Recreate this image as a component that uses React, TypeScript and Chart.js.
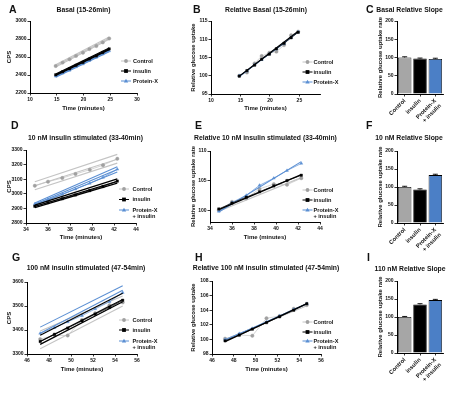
import React, { useEffect, useRef } from 'react';
import { Chart, registerables } from 'chart.js';

Chart.register(...registerables);

const PAGE_W = 454;
const PAGE_H = 397;
const FONT = '"Liberation Sans", Arial, Helvetica, sans-serif';
Chart.defaults.font.family = FONT;

const CTRL_LINE = '#c4c4c4';
const CTRL_MARK = '#a0a0a0';
const INS = '#000000';
const PROT = '#5b8fd3';
const BAR_GRAY = '#a6a6a6';
const BAR_BLUE = '#4b7fc6';
const TEXT = '#111111';

// ---------------- DATA ----------------
const basalTimes = [14.8, 16.1, 17.4, 18.6, 19.9, 21.1, 22.4, 23.6, 24.8];
const basalFitT = [14.8, 24.8];
const tenTimes = [34.8, 36.0, 37.3, 38.5, 39.8, 41.0, 42.3];
const tenFitT = [34.8, 42.3];
const hundredTimes = [47.2, 48.5, 49.7, 51.0, 52.2, 53.5, 54.7];
const hundredFitT = [47.2, 54.7];

// Panel A: Basal CPS
const aCtrl = [2500, 2538, 2574, 2612, 2648, 2688, 2722, 2762, 2806];
const aIns = [2402, 2436, 2470, 2508, 2540, 2578, 2612, 2650, 2690];
const aProt = [2386, 2420, 2452, 2490, 2522, 2560, 2596, 2632, 2668];
const aCtrlFitStart = [2490, 2502, 2514];
const aCtrlFitEnd = [2796, 2808, 2822];
const aInsFitStart = [2394, 2402, 2410];
const aInsFitEnd = [2682, 2691, 2700];
const aProtFitStart = [2376, 2384, 2393];
const aProtFitEnd = [2658, 2667, 2677];

// Panel B: Relative basal
const bCtrl = [100.0, 100.9, 103.4, 105.4, 106.3, 106.6, 108.4, 111.1, 112.1];
const bIns = [99.9, 101.4, 102.9, 104.5, 105.9, 107.4, 108.9, 110.4, 111.9];
const bProt = [100.0, 101.3, 103.0, 104.4, 106.0, 107.3, 108.8, 110.5, 112.0];
const bCtrlFitStart = [99.8];
const bCtrlFitEnd = [112.0];
const bInsFitStart = [99.9];
const bInsFitEnd = [112.2];
const bProtFitStart = [99.8];
const bProtFitEnd = [112.1];

// Panel D: 10 nM CPS
const dCtrl = [3055, 3083, 3108, 3136, 3165, 3196, 3240];
const dIns = [2915, 2940, 2966, 2992, 3022, 3050, 3087];
const dProt = [2930, 2962, 2996, 3032, 3072, 3112, 3168];
const dCtrlFitStart = [3028, 3055, 3082];
const dCtrlFitEnd = [3210, 3237, 3270];
const dInsFitStart = [2905, 2913, 2922];
const dInsFitEnd = [3073, 3085, 3102];
const dProtFitStart = [2920, 2928, 2937];
const dProtFitEnd = [3150, 3167, 3185];

// Panel E: Relative 10 nM
const eCtrl = [100.0, 101.4, 102.0, 103.6, 104.4, 104.3, 105.4];
const eIns = [100.2, 101.2, 102.2, 103.1, 104.1, 105.0, 105.9];
const eProt = [99.8, 101.3, 102.5, 104.2, 105.4, 106.7, 107.9];
const eCtrlFitStart = [99.8];
const eCtrlFitEnd = [105.5];
const eInsFitStart = [100.1];
const eInsFitEnd = [106.0];
const eProtFitStart = [99.7];
const eProtFitEnd = [108.2];

// Panel G: 100 nM CPS
const gCtrl = [3362, 3378, 3377, 3442, 3470, 3503, 3515];
const gIns = [3352, 3382, 3408, 3438, 3466, 3494, 3524];
const gProt = [3386, 3410, 3434, 3460, 3488, 3518, 3556];
const gCtrlFitStart = [3322, 3396];
const gCtrlFitEnd = [3500, 3542];
const gInsFitStart = [3340, 3352, 3378];
const gInsFitEnd = [3518, 3527, 3553];
const gProtFitStart = [3386, 3412];
const gProtFitEnd = [3566, 3584];

// Panel H: Relative 100 nM
const hCtrl = [100.1, 100.6, 100.5, 102.9, 103.2, 104.2, 104.7];
const hIns = [99.8, 100.6, 101.4, 102.3, 103.1, 104.0, 104.9];
const hProt = [100.0, 100.8, 101.5, 102.4, 103.2, 104.1, 104.9];
const hCtrlFitStart = [100.0];
const hCtrlFitEnd = [104.6];
const hInsFitStart = [99.7];
const hInsFitEnd = [104.9];
const hProtFitStart = [99.9];
const hProtFitEnd = [104.9];

// Bar panels
const barCategories: (string | string[])[] = ['Control', 'insulin', ['Protein-X', '+ insulin']];
const cSlope = [100, 97, 96];
const cErr = [2, 1.5, 2];
const fSlope = [100, 93, 133];
const fErr = [2, 2, 2.5];
const iSlope = [100, 135, 147];
const iErr = [1.5, 2, 2];

// Tick labels
const ticksA_x = [10, 15, 20, 25, 30];
const ticksA_y = [2200, 2400, 2600, 2800, 3000];
const ticksB_x = [10, 15, 20, 25];
const ticksB_y = [95, 100, 105, 110, 115];
const ticksD_x = [34, 36, 38, 40, 42, 44];
const ticksD_y = [2800, 2900, 3000, 3100, 3200, 3300];
const ticksE_x = [34, 36, 38, 40, 42, 44];
const ticksE_y = [100, 105, 110];
const ticksG_x = [46, 48, 50, 52, 54, 56];
const ticksG_y = [3300, 3400, 3500, 3600];
const ticksH_x = [46, 48, 50, 52, 54, 56];
const ticksH_y = [98, 100, 102, 104, 106, 108];
const ticksBar_y = [0, 50, 100, 150, 200];

const groupNames = ['Control', 'insulin', 'Protein-X'];

// ---------------- HELPERS ----------------
const tickFont = { family: FONT, size: 5, weight: 'bold' as const };
const titleFont = { family: FONT, size: 6, weight: 'bold' as const, lineHeight: 1.2 };
const HALF_TITLE = 3.6;

const pts = (xs: number[], ys: number[]) => xs.map((x, i) => ({ x, y: ys[i] }));

function fitSets(t: number[], starts: number[], ends: number[], color: string, width: number) {
  return starts.map((s, i) => ({
    data: [{ x: t[0], y: s }, { x: t[1], y: ends[i] }],
    borderColor: color,
    borderWidth: width,
    pointRadius: 0,
    fill: false,
    tension: 0,
  }));
}

function meanSet(xs: number[], ys: number[], line: string, mark: string, style: string) {
  return {
    data: pts(xs, ys),
    borderColor: line,
    borderWidth: 0.7,
    pointStyle: style,
    pointRadius: 1.7,
    pointBackgroundColor: mark,
    pointBorderColor: mark,
    pointBorderWidth: 0.4,
    fill: false,
    tension: 0,
  };
}

function groupSets(times: number[], fitT: number[], ctrl: number[], ins: number[], prot: number[],
  cs: number[], ce: number[], is: number[], ie: number[], ps: number[], pe: number[]) {
  return [
    meanSet(times, ins, INS, INS, 'rect'),
    ...fitSets(fitT, is, ie, INS, 1.2),
    meanSet(times, prot, PROT, PROT, 'triangle'),
    ...fitSets(fitT, ps, pe, PROT, 1.1),
    meanSet(times, ctrl, CTRL_LINE, CTRL_MARK, 'circle'),
    ...fitSets(fitT, cs, ce, CTRL_LINE, 1.1),
  ];
}

function linAxis(min: number, max: number, ticks: number[], title: string, vertical: boolean, size: number) {
  return {
    type: 'linear',
    min,
    max,
    afterBuildTicks: (s: any) => { s.ticks = ticks.map((v) => ({ value: v })); },
    afterFit: (s: any) => { if (vertical) s.width = size; else s.height = size; },
    ticks: { font: tickFont, color: TEXT, padding: 1, maxRotation: 0, autoSkip: false, callback: (v: any) => String(v) },
    grid: { display: true, drawOnChartArea: false, drawTicks: true, tickLength: 2.5, color: '#000', lineWidth: 0.8 },
    border: { display: true, color: '#000', width: 1 },
    title: { display: true, text: title, font: titleFont, color: TEXT, padding: 0 },
  };
}

interface LegendSpec { markerX: number; textX: number; rows: number[]; twoLine: boolean }
interface Decor {
  letter: string; letterX: number; letterY: number;
  title: string; titleX: number; titleY: number;
  legend?: LegendSpec;
}

function drawMarker(ctx: CanvasRenderingContext2D, style: string, x: number, y: number, r: number, color: string) {
  ctx.fillStyle = color;
  ctx.beginPath();
  if (style === 'circle') ctx.arc(x, y, r, 0, Math.PI * 2);
  else if (style === 'rect') ctx.rect(x - r, y - r, 2 * r, 2 * r);
  else {
    ctx.moveTo(x, y - r * 1.2);
    ctx.lineTo(x + r * 1.15, y + r * 0.85);
    ctx.lineTo(x - r * 1.15, y + r * 0.85);
    ctx.closePath();
  }
  ctx.fill();
}

function decorPlugin(d: Decor) {
  return {
    id: 'decor',
    afterDraw(chart: any) {
      const ctx: CanvasRenderingContext2D = chart.ctx;
      ctx.save();
      ctx.fillStyle = TEXT;
      ctx.textBaseline = 'middle';
      ctx.textAlign = 'left';
      ctx.font = `bold 10.5px ${FONT}`;
      ctx.fillText(d.letter, d.letterX, d.letterY);
      ctx.font = `bold 6.8px ${FONT}`;
      ctx.textAlign = 'center';
      ctx.fillText(d.title, d.titleX, d.titleY);
      if (d.legend) {
        const L = d.legend;
        const items = [
          { text: groupNames[0], line: CTRL_LINE, mark: CTRL_MARK, style: 'circle' },
          { text: groupNames[1], line: INS, mark: INS, style: 'rect' },
          { text: groupNames[2], line: PROT, mark: PROT, style: 'triangle' },
        ];
        ctx.font = `bold 5.6px ${FONT}`;
        ctx.textAlign = 'left';
        items.forEach((it, i) => {
          const y = L.rows[i];
          ctx.strokeStyle = it.line;
          ctx.lineWidth = 1;
          ctx.beginPath();
          ctx.moveTo(L.markerX - 5, y);
          ctx.lineTo(L.markerX + 5, y);
          ctx.stroke();
          drawMarker(ctx, it.style, L.markerX, y, 1.9, it.mark);
          ctx.fillStyle = TEXT;
          ctx.fillText(it.text, L.textX, y);
          if (i === 2 && L.twoLine) ctx.fillText('+ insulin', L.textX, y + 6.5);
        });
      }
      ctx.restore();
    },
  };
}

function errorBarPlugin(values: number[], errors: number[]) {
  return {
    id: 'errbars',
    afterDatasetsDraw(chart: any) {
      const ctx: CanvasRenderingContext2D = chart.ctx;
      const meta = chart.getDatasetMeta(0);
      const ys = chart.scales.y;
      ctx.save();
      ctx.strokeStyle = '#000';
      ctx.lineWidth = 0.9;
      meta.data.forEach((bar: any, i: number) => {
        const x = bar.x;
        const y0 = ys.getPixelForValue(values[i]);
        const y1 = ys.getPixelForValue(values[i] + errors[i]);
        ctx.beginPath();
        ctx.moveTo(x, y0);
        ctx.lineTo(x, y1);
        ctx.moveTo(x - 2.5, y1);
        ctx.lineTo(x + 2.5, y1);
        ctx.stroke();
      });
      ctx.restore();
    },
  };
}

const baseOptions = {
  responsive: false,
  maintainAspectRatio: false,
  animation: false,
  devicePixelRatio: 1,
  events: [] as string[],
};
const noPlugins = { legend: { display: false }, tooltip: { enabled: false }, title: { display: false } };

interface XYPanel {
  l: number; r: number; t: number; b: number;
  xMin: number; xMax: number; xTicks: number[];
  yMin: number; yMax: number; yTicks: number[];
  yTitle: string; yTitleX: number; xTitleY: number;
  datasets: any[];
  decor: Decor;
}

function xyConfig(p: XYPanel): any {
  const wy = p.l - (p.yTitleX - HALF_TITLE);
  const hx = p.xTitleY - p.b + HALF_TITLE;
  return {
    type: 'line',
    data: { datasets: p.datasets },
    options: {
      ...baseOptions,
      layout: { padding: { left: p.l - wy, right: PAGE_W - p.r, top: p.t, bottom: PAGE_H - p.b - hx } },
      plugins: noPlugins,
      scales: {
        x: linAxis(p.xMin, p.xMax, p.xTicks, 'Time (minutes)', false, hx),
        y: linAxis(p.yMin, p.yMax, p.yTicks, p.yTitle, true, wy),
      },
    },
    plugins: [decorPlugin(p.decor)],
  };
}

interface BarPanel {
  l: number; r: number; t: number; b: number; yTitleX: number;
  values: number[]; errors: number[]; decor: Decor;
}

function barConfig(p: BarPanel): any {
  const wy = p.l - (p.yTitleX - HALF_TITLE);
  const hx = 30;
  return {
    type: 'bar',
    data: {
      labels: barCategories,
      datasets: [{
        data: p.values,
        backgroundColor: [BAR_GRAY, INS, BAR_BLUE],
        borderColor: '#000',
        borderWidth: 0.8,
        barPercentage: 0.88,
        categoryPercentage: 1,
      }],
    },
    options: {
      ...baseOptions,
      layout: { padding: { left: p.l - wy, right: PAGE_W - p.r, top: p.t, bottom: PAGE_H - p.b - hx } },
      plugins: noPlugins,
      scales: {
        x: {
          type: 'category',
          offset: true,
          afterFit: (s: any) => { s.height = hx; },
          ticks: { font: { family: FONT, size: 5.8, weight: 'bold' }, color: TEXT, minRotation: 45, maxRotation: 45, autoSkip: false, padding: 1 },
          grid: { display: true, drawOnChartArea: false, offset: false, tickLength: 2.5, color: '#000', lineWidth: 0.8 },
          border: { display: true, color: '#000', width: 1 },
        },
        y: linAxis(0, 200, ticksBar_y, 'Relative glucose uptake rate', true, wy),
      },
    },
    plugins: [errorBarPlugin(p.values, p.errors), decorPlugin(p.decor)],
  };
}

// ---------------- PANELS ----------------
const configs: any[] = [
  xyConfig({
    l: 30, r: 137, t: 21, b: 93, xMin: 10, xMax: 30, xTicks: ticksA_x, yMin: 2200, yMax: 3000, yTicks: ticksA_y,
    yTitle: 'CPS', yTitleX: 9.5, xTitleY: 108.5,
    datasets: groupSets(basalTimes, basalFitT, aCtrl, aIns, aProt, aCtrlFitStart, aCtrlFitEnd, aInsFitStart, aInsFitEnd, aProtFitStart, aProtFitEnd),
    decor: { letter: 'A', letterX: 9, letterY: 10, title: 'Basal (15-26min)', titleX: 83.5, titleY: 10, legend: { markerX: 126, textX: 133, rows: [61, 71, 81], twoLine: false } },
  }),
  xyConfig({
    l: 211, r: 320, t: 21, b: 94, xMin: 10, xMax: 28.5, xTicks: ticksB_x, yMin: 95, yMax: 115, yTicks: ticksB_y,
    yTitle: 'Relative glucose uptake', yTitleX: 193, xTitleY: 108.5,
    datasets: groupSets(basalTimes, basalFitT, bCtrl, bIns, bProt, bCtrlFitStart, bCtrlFitEnd, bInsFitStart, bInsFitEnd, bProtFitStart, bProtFitEnd),
    decor: { letter: 'B', letterX: 193, letterY: 10, title: 'Relative Basal (15-26min)', titleX: 266, titleY: 10, legend: { markerX: 307.5, textX: 313.5, rows: [62, 72, 82], twoLine: false } },
  }),
  barConfig({
    l: 397, r: 443, t: 21, b: 94, yTitleX: 380, values: cSlope, errors: cErr,
    decor: { letter: 'C', letterX: 366, letterY: 10, title: 'Basal Relative Slope', titleX: 409.5, titleY: 10 },
  }),
  xyConfig({
    l: 26, r: 136, t: 150, b: 223, xMin: 34, xMax: 44, xTicks: ticksD_x, yMin: 2800, yMax: 3300, yTicks: ticksD_y,
    yTitle: 'CPS', yTitleX: 9.5, xTitleY: 237.5,
    datasets: groupSets(tenTimes, tenFitT, dCtrl, dIns, dProt, dCtrlFitStart, dCtrlFitEnd, dInsFitStart, dInsFitEnd, dProtFitStart, dProtFitEnd),
    decor: { letter: 'D', letterX: 11, letterY: 126, title: '10 nM insulin stimulated (33-40min)', titleX: 85.5, titleY: 138, legend: { markerX: 124, textX: 132.5, rows: [189, 199.5, 210], twoLine: true } },
  }),
  xyConfig({
    l: 210, r: 320, t: 151, b: 222, xMin: 34, xMax: 44, xTicks: ticksE_x, yMin: 98, yMax: 110, yTicks: ticksE_y,
    yTitle: 'Relative glucose uptake rate', yTitleX: 193, xTitleY: 237.5,
    datasets: groupSets(tenTimes, tenFitT, eCtrl, eIns, eProt, eCtrlFitStart, eCtrlFitEnd, eInsFitStart, eInsFitEnd, eProtFitStart, eProtFitEnd),
    decor: { letter: 'E', letterX: 195, letterY: 126, title: 'Relative 10 nM insulin stimulated (33-40min)', titleX: 265.5, titleY: 138, legend: { markerX: 307.5, textX: 313.5, rows: [190, 200, 210], twoLine: true } },
  }),
  barConfig({
    l: 397, r: 443, t: 151, b: 223, yTitleX: 380, values: fSlope, errors: fErr,
    decor: { letter: 'F', letterX: 366, letterY: 126, title: '10 nM Relative Slope', titleX: 409, titleY: 138 },
  }),
  xyConfig({
    l: 27, r: 137, t: 282, b: 354, xMin: 46, xMax: 56, xTicks: ticksG_x, yMin: 3300, yMax: 3600, yTicks: ticksG_y,
    yTitle: 'CPS', yTitleX: 9.5, xTitleY: 369,
    datasets: groupSets(hundredTimes, hundredFitT, gCtrl, gIns, gProt, gCtrlFitStart, gCtrlFitEnd, gInsFitStart, gInsFitEnd, gProtFitStart, gProtFitEnd),
    decor: { letter: 'G', letterX: 12, letterY: 258, title: '100 nM insulin stimulated (47-54min)', titleX: 86, titleY: 268, legend: { markerX: 124, textX: 132.5, rows: [320, 330, 341], twoLine: true } },
  }),
  xyConfig({
    l: 212, r: 321, t: 281, b: 354, xMin: 46, xMax: 56, xTicks: ticksH_x, yMin: 98, yMax: 108, yTicks: ticksH_y,
    yTitle: 'Relative glucose uptake', yTitleX: 193, xTitleY: 369,
    datasets: groupSets(hundredTimes, hundredFitT, hCtrl, hIns, hProt, hCtrlFitStart, hCtrlFitEnd, hInsFitStart, hInsFitEnd, hProtFitStart, hProtFitEnd),
    decor: { letter: 'H', letterX: 195, letterY: 258, title: 'Relative 100 nM insulin stimulated (47-54min)', titleX: 266, titleY: 268, legend: { markerX: 307.5, textX: 313.5, rows: [322, 332, 341], twoLine: true } },
  }),
  barConfig({
    l: 397, r: 443, t: 281, b: 353, yTitleX: 380, values: iSlope, errors: iErr,
    decor: { letter: 'I', letterX: 367, letterY: 258, title: '110 nM Relative Slope', titleX: 410, titleY: 269 },
  }),
];

function Panel({ config }: { config: any }) {
  const ref = useRef<HTMLCanvasElement>(null);
  useEffect(() => {
    const chart = new Chart(ref.current as HTMLCanvasElement, config);
    return () => chart.destroy();
  }, [config]);
  return (
    <canvas
      ref={ref}
      width={PAGE_W}
      height={PAGE_H}
      style={{ position: 'absolute', left: 0, top: 0, width: PAGE_W, height: PAGE_H }}
    />
  );
}

export default function App() {
  return (
    <div style={{ position: 'fixed', left: 0, top: 0, width: PAGE_W, height: PAGE_H, background: '#fff', overflow: 'hidden' }}>
      {configs.map((c, i) => (
        <Panel key={i} config={c} />
      ))}
    </div>
  );
}
